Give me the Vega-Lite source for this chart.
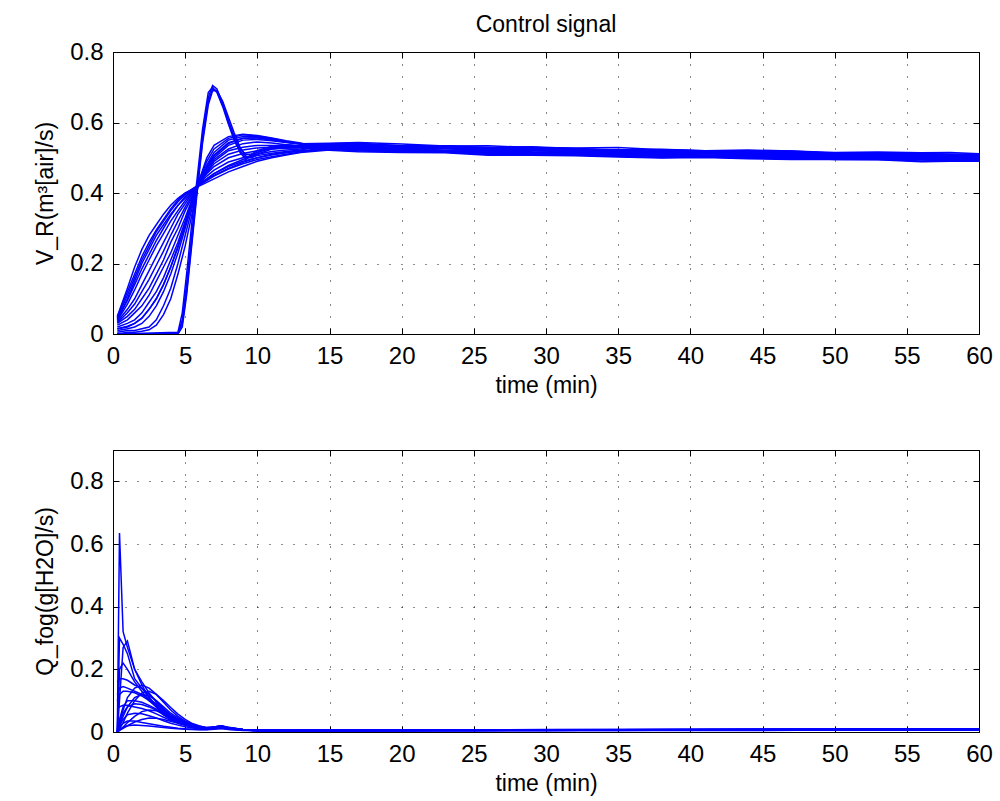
{
"$schema": "https://vega.github.io/schema/vega-lite/v6.json",
"background": "white",
"padding": {"left": 34, "top": 13, "right": 10, "bottom": 5},
"config": {
  "font": "Liberation Sans",
  "view": {"stroke": "black", "strokeWidth": 1},
  "axis": {"domainColor": "black", "tickColor": "black", "labelColor": "black", "titleColor": "black", "labelFontSize": 24, "titleFontSize": 23, "titleFontWeight": "normal", "gridColor": "black", "gridDash": [1, 11], "gridWidth": 1, "gridOpacity": 0.9, "tickSize": -6, "labelPadding": 16, "labelFlush": false, "labelOverlap": false, "labelFont": "Liberation Sans", "titleFont": "Liberation Sans"},
  "title": {"font": "Liberation Sans", "fontSize": 23, "fontWeight": "normal", "color": "black"}
},
"datasets": {
"top": [
{"r":"R1","t":0.3,"v":0.05},{"r":"R1","t":1,"v":0.13},{"r":"R1","t":1.5,"v":0.19},{"r":"R1","t":2,"v":0.24},{"r":"R1","t":2.5,"v":0.28},{"r":"R1","t":3,"v":0.31},{"r":"R1","t":3.5,"v":0.34},{"r":"R1","t":4,"v":0.365},{"r":"R1","t":4.5,"v":0.385},{"r":"R1","t":5,"v":0.40},{"r":"R1","t":5.5,"v":0.41},{"r":"R1","t":6,"v":0.42},{"r":"R1","t":6.5,"v":0.43},{"r":"R1","t":7,"v":0.44},{"r":"R1","t":8,"v":0.46},{"r":"R1","t":9,"v":0.475},{"r":"R1","t":10,"v":0.49},{"r":"R1","t":11,"v":0.5},{"r":"R1","t":12,"v":0.508},{"r":"R1","t":13,"v":0.515},
{"r":"R1","t":15,"v":0.522},{"r":"R1","t":17,"v":0.523},{"r":"R1","t":20,"v":0.516},{"r":"R1","t":23,"v":0.516},{"r":"R1","t":26,"v":0.511},{"r":"R1","t":29,"v":0.513},{"r":"R1","t":32,"v":0.508},{"r":"R1","t":35,"v":0.504},{"r":"R1","t":38,"v":0.506},{"r":"R1","t":41,"v":0.502},{"r":"R1","t":44,"v":0.499},{"r":"R1","t":47,"v":0.501},{"r":"R1","t":50,"v":0.495},{"r":"R1","t":53,"v":0.495},{"r":"R1","t":56,"v":0.495},{"r":"R1","t":58,"v":0.492},{"r":"R1","t":60,"v":0.492},
{"r":"R2","t":0.3,"v":0.04},{"r":"R2","t":1,"v":0.1},{"r":"R2","t":1.5,"v":0.15},{"r":"R2","t":2,"v":0.2},{"r":"R2","t":2.5,"v":0.24},{"r":"R2","t":3,"v":0.28},{"r":"R2","t":3.5,"v":0.31},{"r":"R2","t":4,"v":0.34},{"r":"R2","t":4.5,"v":0.365},{"r":"R2","t":5,"v":0.385},{"r":"R2","t":5.5,"v":0.405},{"r":"R2","t":6,"v":0.425},{"r":"R2","t":6.5,"v":0.44},{"r":"R2","t":7,"v":0.455},{"r":"R2","t":8,"v":0.475},{"r":"R2","t":9,"v":0.49},{"r":"R2","t":10,"v":0.5},{"r":"R2","t":11,"v":0.51},{"r":"R2","t":12,"v":0.515},{"r":"R2","t":13,"v":0.52},
{"r":"R2","t":15,"v":0.528},{"r":"R2","t":17,"v":0.524},{"r":"R2","t":20,"v":0.522},{"r":"R2","t":23,"v":0.521},{"r":"R2","t":26,"v":0.514},{"r":"R2","t":29,"v":0.514},{"r":"R2","t":32,"v":0.513},{"r":"R2","t":35,"v":0.509},{"r":"R2","t":38,"v":0.506},{"r":"R2","t":41,"v":0.508},{"r":"R2","t":44,"v":0.504},{"r":"R2","t":47,"v":0.502},{"r":"R2","t":50,"v":0.502},{"r":"R2","t":53,"v":0.501},{"r":"R2","t":56,"v":0.496},{"r":"R2","t":58,"v":0.497},{"r":"R2","t":60,"v":0.497},
{"r":"R3","t":0.3,"v":0.035},{"r":"R3","t":1,"v":0.07},{"r":"R3","t":1.5,"v":0.1},{"r":"R3","t":2,"v":0.14},{"r":"R3","t":2.5,"v":0.18},{"r":"R3","t":3,"v":0.22},{"r":"R3","t":3.5,"v":0.26},{"r":"R3","t":4,"v":0.3},{"r":"R3","t":4.5,"v":0.34},{"r":"R3","t":5,"v":0.37},{"r":"R3","t":5.5,"v":0.4},{"r":"R3","t":6,"v":0.43},{"r":"R3","t":6.5,"v":0.455},{"r":"R3","t":7,"v":0.475},{"r":"R3","t":8,"v":0.5},{"r":"R3","t":9,"v":0.512},{"r":"R3","t":10,"v":0.52},{"r":"R3","t":11,"v":0.525},{"r":"R3","t":12,"v":0.527},{"r":"R3","t":13,"v":0.528},
{"r":"R3","t":15,"v":0.529},{"r":"R3","t":17,"v":0.531},{"r":"R3","t":20,"v":0.527},{"r":"R3","t":23,"v":0.521},{"r":"R3","t":26,"v":0.522},{"r":"R3","t":29,"v":0.517},{"r":"R3","t":32,"v":0.516},{"r":"R3","t":35,"v":0.517},{"r":"R3","t":38,"v":0.511},{"r":"R3","t":41,"v":0.508},{"r":"R3","t":44,"v":0.510},{"r":"R3","t":47,"v":0.507},{"r":"R3","t":50,"v":0.503},{"r":"R3","t":53,"v":0.504},{"r":"R3","t":56,"v":0.502},{"r":"R3","t":58,"v":0.503},{"r":"R3","t":60,"v":0.499},
{"r":"R4","t":0.3,"v":0.03},{"r":"R4","t":1,"v":0.05},{"r":"R4","t":1.5,"v":0.07},{"r":"R4","t":2,"v":0.1},{"r":"R4","t":2.5,"v":0.13},{"r":"R4","t":3,"v":0.17},{"r":"R4","t":3.5,"v":0.21},{"r":"R4","t":4,"v":0.26},{"r":"R4","t":4.5,"v":0.3},{"r":"R4","t":5,"v":0.35},{"r":"R4","t":5.5,"v":0.39},{"r":"R4","t":6,"v":0.43},{"r":"R4","t":6.5,"v":0.46},{"r":"R4","t":7,"v":0.49},{"r":"R4","t":8,"v":0.52},{"r":"R4","t":9,"v":0.53},{"r":"R4","t":10,"v":0.535},{"r":"R4","t":11,"v":0.535},{"r":"R4","t":12,"v":0.534},{"r":"R4","t":13,"v":0.533},
{"r":"R4","t":15,"v":0.534},{"r":"R4","t":17,"v":0.535},{"r":"R4","t":20,"v":0.528},{"r":"R4","t":23,"v":0.528},{"r":"R4","t":26,"v":0.523},{"r":"R4","t":29,"v":0.525},{"r":"R4","t":32,"v":0.520},{"r":"R4","t":35,"v":0.516},{"r":"R4","t":38,"v":0.518},{"r":"R4","t":41,"v":0.514},{"r":"R4","t":44,"v":0.511},{"r":"R4","t":47,"v":0.513},{"r":"R4","t":50,"v":0.507},{"r":"R4","t":53,"v":0.507},{"r":"R4","t":56,"v":0.507},{"r":"R4","t":58,"v":0.504},{"r":"R4","t":60,"v":0.504},
{"r":"R5","t":0.3,"v":0.02},{"r":"R5","t":1,"v":0.03},{"r":"R5","t":1.5,"v":0.04},{"r":"R5","t":2,"v":0.06},{"r":"R5","t":2.5,"v":0.09},{"r":"R5","t":3,"v":0.12},{"r":"R5","t":3.5,"v":0.16},{"r":"R5","t":4,"v":0.21},{"r":"R5","t":4.5,"v":0.26},{"r":"R5","t":5,"v":0.32},{"r":"R5","t":5.5,"v":0.38},{"r":"R5","t":6,"v":0.43},{"r":"R5","t":6.5,"v":0.47},{"r":"R5","t":7,"v":0.5},{"r":"R5","t":8,"v":0.535},{"r":"R5","t":9,"v":0.55},{"r":"R5","t":10,"v":0.552},{"r":"R5","t":11,"v":0.548},{"r":"R5","t":12,"v":0.543},{"r":"R5","t":13,"v":0.54},
{"r":"R5","t":15,"v":0.540},{"r":"R5","t":17,"v":0.536},{"r":"R5","t":20,"v":0.534},{"r":"R5","t":23,"v":0.533},{"r":"R5","t":26,"v":0.526},{"r":"R5","t":29,"v":0.526},{"r":"R5","t":32,"v":0.525},{"r":"R5","t":35,"v":0.521},{"r":"R5","t":38,"v":0.518},{"r":"R5","t":41,"v":0.520},{"r":"R5","t":44,"v":0.516},{"r":"R5","t":47,"v":0.514},{"r":"R5","t":50,"v":0.514},{"r":"R5","t":53,"v":0.513},{"r":"R5","t":56,"v":0.508},{"r":"R5","t":58,"v":0.509},{"r":"R5","t":60,"v":0.509},
{"r":"R6","t":0.3,"v":0.01},{"r":"R6","t":1,"v":0.015},{"r":"R6","t":1.5,"v":0.02},{"r":"R6","t":2,"v":0.03},{"r":"R6","t":2.5,"v":0.05},{"r":"R6","t":3,"v":0.08},{"r":"R6","t":3.5,"v":0.12},{"r":"R6","t":4,"v":0.17},{"r":"R6","t":4.5,"v":0.23},{"r":"R6","t":5,"v":0.3},{"r":"R6","t":5.5,"v":0.37},{"r":"R6","t":6,"v":0.435},{"r":"R6","t":6.5,"v":0.48},{"r":"R6","t":7,"v":0.515},{"r":"R6","t":8,"v":0.55},{"r":"R6","t":9,"v":0.56},{"r":"R6","t":10,"v":0.56},{"r":"R6","t":11,"v":0.552},{"r":"R6","t":12,"v":0.545},{"r":"R6","t":13,"v":0.54},
{"r":"R6","t":15,"v":0.535},{"r":"R6","t":17,"v":0.537},{"r":"R6","t":20,"v":0.533},{"r":"R6","t":23,"v":0.527},{"r":"R6","t":26,"v":0.528},{"r":"R6","t":29,"v":0.523},{"r":"R6","t":32,"v":0.522},{"r":"R6","t":35,"v":0.523},{"r":"R6","t":38,"v":0.517},{"r":"R6","t":41,"v":0.514},{"r":"R6","t":44,"v":0.516},{"r":"R6","t":47,"v":0.513},{"r":"R6","t":50,"v":0.509},{"r":"R6","t":53,"v":0.510},{"r":"R6","t":56,"v":0.508},{"r":"R6","t":58,"v":0.509},{"r":"R6","t":60,"v":0.505},
{"r":"R7","t":0.3,"v":0.005},{"r":"R7","t":1,"v":0.01},{"r":"R7","t":1.5,"v":0.01},{"r":"R7","t":2,"v":0.015},{"r":"R7","t":2.5,"v":0.02},{"r":"R7","t":3,"v":0.04},{"r":"R7","t":3.5,"v":0.08},{"r":"R7","t":4,"v":0.13},{"r":"R7","t":4.5,"v":0.2},{"r":"R7","t":5,"v":0.28},{"r":"R7","t":5.5,"v":0.36},{"r":"R7","t":6,"v":0.44},{"r":"R7","t":6.5,"v":0.49},{"r":"R7","t":7,"v":0.525},{"r":"R7","t":8,"v":0.555},{"r":"R7","t":9,"v":0.565},{"r":"R7","t":10,"v":0.562},{"r":"R7","t":11,"v":0.555},{"r":"R7","t":12,"v":0.547},{"r":"R7","t":13,"v":0.54},
{"r":"R7","t":15,"v":0.532},{"r":"R7","t":17,"v":0.533},{"r":"R7","t":20,"v":0.526},{"r":"R7","t":23,"v":0.526},{"r":"R7","t":26,"v":0.521},{"r":"R7","t":29,"v":0.523},{"r":"R7","t":32,"v":0.518},{"r":"R7","t":35,"v":0.514},{"r":"R7","t":38,"v":0.516},{"r":"R7","t":41,"v":0.512},{"r":"R7","t":44,"v":0.509},{"r":"R7","t":47,"v":0.511},{"r":"R7","t":50,"v":0.505},{"r":"R7","t":53,"v":0.505},{"r":"R7","t":56,"v":0.505},{"r":"R7","t":58,"v":0.502},{"r":"R7","t":60,"v":0.502},
{"r":"R8","t":0.3,"v":0.045},{"r":"R8","t":1,"v":0.11},{"r":"R8","t":1.5,"v":0.16},{"r":"R8","t":2,"v":0.21},{"r":"R8","t":2.5,"v":0.25},{"r":"R8","t":3,"v":0.29},{"r":"R8","t":3.5,"v":0.32},{"r":"R8","t":4,"v":0.35},{"r":"R8","t":4.5,"v":0.375},{"r":"R8","t":5,"v":0.395},{"r":"R8","t":5.5,"v":0.41},{"r":"R8","t":6,"v":0.423},{"r":"R8","t":6.5,"v":0.435},{"r":"R8","t":7,"v":0.448},{"r":"R8","t":8,"v":0.468},{"r":"R8","t":9,"v":0.483},{"r":"R8","t":10,"v":0.495},{"r":"R8","t":11,"v":0.503},{"r":"R8","t":12,"v":0.51},{"r":"R8","t":13,"v":0.516},
{"r":"R8","t":15,"v":0.526},{"r":"R8","t":17,"v":0.522},{"r":"R8","t":20,"v":0.520},{"r":"R8","t":23,"v":0.519},{"r":"R8","t":26,"v":0.512},{"r":"R8","t":29,"v":0.512},{"r":"R8","t":32,"v":0.511},{"r":"R8","t":35,"v":0.507},{"r":"R8","t":38,"v":0.504},{"r":"R8","t":41,"v":0.506},{"r":"R8","t":44,"v":0.502},{"r":"R8","t":47,"v":0.500},{"r":"R8","t":50,"v":0.500},{"r":"R8","t":53,"v":0.499},{"r":"R8","t":56,"v":0.494},{"r":"R8","t":58,"v":0.495},{"r":"R8","t":60,"v":0.495},
{"r":"R9","t":0.3,"v":0.025},{"r":"R9","t":1,"v":0.04},{"r":"R9","t":1.5,"v":0.06},{"r":"R9","t":2,"v":0.08},{"r":"R9","t":2.5,"v":0.11},{"r":"R9","t":3,"v":0.15},{"r":"R9","t":3.5,"v":0.19},{"r":"R9","t":4,"v":0.23},{"r":"R9","t":4.5,"v":0.28},{"r":"R9","t":5,"v":0.33},{"r":"R9","t":5.5,"v":0.385},{"r":"R9","t":6,"v":0.43},{"r":"R9","t":6.5,"v":0.465},{"r":"R9","t":7,"v":0.495},{"r":"R9","t":8,"v":0.525},{"r":"R9","t":9,"v":0.54},{"r":"R9","t":10,"v":0.545},{"r":"R9","t":11,"v":0.542},{"r":"R9","t":12,"v":0.537},{"r":"R9","t":13,"v":0.533},
{"r":"R9","t":15,"v":0.527},{"r":"R9","t":17,"v":0.529},{"r":"R9","t":20,"v":0.525},{"r":"R9","t":23,"v":0.519},{"r":"R9","t":26,"v":0.520},{"r":"R9","t":29,"v":0.515},{"r":"R9","t":32,"v":0.514},{"r":"R9","t":35,"v":0.515},{"r":"R9","t":38,"v":0.509},{"r":"R9","t":41,"v":0.506},{"r":"R9","t":44,"v":0.508},{"r":"R9","t":47,"v":0.505},{"r":"R9","t":50,"v":0.501},{"r":"R9","t":53,"v":0.502},{"r":"R9","t":56,"v":0.500},{"r":"R9","t":58,"v":0.501},{"r":"R9","t":60,"v":0.497},
{"r":"R10","t":0.3,"v":0.015},{"r":"R10","t":1,"v":0.02},{"r":"R10","t":1.5,"v":0.03},{"r":"R10","t":2,"v":0.045},{"r":"R10","t":2.5,"v":0.07},{"r":"R10","t":3,"v":0.1},{"r":"R10","t":3.5,"v":0.14},{"r":"R10","t":4,"v":0.19},{"r":"R10","t":4.5,"v":0.25},{"r":"R10","t":5,"v":0.31},{"r":"R10","t":5.5,"v":0.375},{"r":"R10","t":6,"v":0.435},{"r":"R10","t":6.5,"v":0.475},{"r":"R10","t":7,"v":0.505},{"r":"R10","t":8,"v":0.54},{"r":"R10","t":9,"v":0.555},{"r":"R10","t":10,"v":0.557},{"r":"R10","t":11,"v":0.552},{"r":"R10","t":12,"v":0.545},{"r":"R10","t":13,"v":0.538},
{"r":"R10","t":15,"v":0.540},{"r":"R10","t":17,"v":0.541},{"r":"R10","t":20,"v":0.534},{"r":"R10","t":23,"v":0.534},{"r":"R10","t":26,"v":0.529},{"r":"R10","t":29,"v":0.531},{"r":"R10","t":32,"v":0.526},{"r":"R10","t":35,"v":0.522},{"r":"R10","t":38,"v":0.524},{"r":"R10","t":41,"v":0.520},{"r":"R10","t":44,"v":0.517},{"r":"R10","t":47,"v":0.519},{"r":"R10","t":50,"v":0.513},{"r":"R10","t":53,"v":0.513},{"r":"R10","t":56,"v":0.513},{"r":"R10","t":58,"v":0.510},{"r":"R10","t":60,"v":0.510},
{"r":"R11","t":0.3,"v":0.048},{"r":"R11","t":1,"v":0.12},{"r":"R11","t":1.5,"v":0.17},{"r":"R11","t":2,"v":0.22},{"r":"R11","t":2.5,"v":0.26},{"r":"R11","t":3,"v":0.295},{"r":"R11","t":3.5,"v":0.325},{"r":"R11","t":4,"v":0.355},{"r":"R11","t":4.5,"v":0.38},{"r":"R11","t":5,"v":0.398},{"r":"R11","t":5.5,"v":0.412},{"r":"R11","t":6,"v":0.425},{"r":"R11","t":6.5,"v":0.437},{"r":"R11","t":7,"v":0.45},{"r":"R11","t":8,"v":0.47},{"r":"R11","t":9,"v":0.487},{"r":"R11","t":10,"v":0.5},{"r":"R11","t":11,"v":0.508},{"r":"R11","t":12,"v":0.514},{"r":"R11","t":13,"v":0.519},
{"r":"R11","t":15,"v":0.524},{"r":"R11","t":17,"v":0.526},{"r":"R11","t":20,"v":0.522},{"r":"R11","t":23,"v":0.516},{"r":"R11","t":26,"v":0.517},{"r":"R11","t":29,"v":0.512},{"r":"R11","t":32,"v":0.511},{"r":"R11","t":35,"v":0.512},{"r":"R11","t":38,"v":0.506},{"r":"R11","t":41,"v":0.503},{"r":"R11","t":44,"v":0.505},{"r":"R11","t":47,"v":0.502},{"r":"R11","t":50,"v":0.498},{"r":"R11","t":53,"v":0.499},{"r":"R11","t":56,"v":0.497},{"r":"R11","t":58,"v":0.498},{"r":"R11","t":60,"v":0.494},
{"r":"R12","t":0.3,"v":0.038},{"r":"R12","t":1,"v":0.085},{"r":"R12","t":1.5,"v":0.125},{"r":"R12","t":2,"v":0.17},{"r":"R12","t":2.5,"v":0.21},{"r":"R12","t":3,"v":0.25},{"r":"R12","t":3.5,"v":0.285},{"r":"R12","t":4,"v":0.32},{"r":"R12","t":4.5,"v":0.35},{"r":"R12","t":5,"v":0.378},{"r":"R12","t":5.5,"v":0.403},{"r":"R12","t":6,"v":0.428},{"r":"R12","t":6.5,"v":0.448},{"r":"R12","t":7,"v":0.465},{"r":"R12","t":8,"v":0.488},{"r":"R12","t":9,"v":0.5},{"r":"R12","t":10,"v":0.51},{"r":"R12","t":11,"v":0.518},{"r":"R12","t":12,"v":0.522},{"r":"R12","t":13,"v":0.525},
{"r":"R12","t":15,"v":0.533},{"r":"R12","t":17,"v":0.529},{"r":"R12","t":20,"v":0.527},{"r":"R12","t":23,"v":0.526},{"r":"R12","t":26,"v":0.519},{"r":"R12","t":29,"v":0.519},{"r":"R12","t":32,"v":0.518},{"r":"R12","t":35,"v":0.514},{"r":"R12","t":38,"v":0.511},{"r":"R12","t":41,"v":0.513},{"r":"R12","t":44,"v":0.509},{"r":"R12","t":47,"v":0.507},{"r":"R12","t":50,"v":0.507},{"r":"R12","t":53,"v":0.506},{"r":"R12","t":56,"v":0.501},{"r":"R12","t":58,"v":0.502},{"r":"R12","t":60,"v":0.502},
{"r":"R13","t":0.3,"v":0.032},{"r":"R13","t":1,"v":0.06},{"r":"R13","t":1.5,"v":0.085},{"r":"R13","t":2,"v":0.12},{"r":"R13","t":2.5,"v":0.155},{"r":"R13","t":3,"v":0.195},{"r":"R13","t":3.5,"v":0.235},{"r":"R13","t":4,"v":0.28},{"r":"R13","t":4.5,"v":0.32},{"r":"R13","t":5,"v":0.36},{"r":"R13","t":5.5,"v":0.395},{"r":"R13","t":6,"v":0.43},{"r":"R13","t":6.5,"v":0.458},{"r":"R13","t":7,"v":0.483},{"r":"R13","t":8,"v":0.51},{"r":"R13","t":9,"v":0.522},{"r":"R13","t":10,"v":0.528},{"r":"R13","t":11,"v":0.53},{"r":"R13","t":12,"v":0.53},{"r":"R13","t":13,"v":0.53},
{"r":"R13","t":15,"v":0.523},{"r":"R13","t":17,"v":0.524},{"r":"R13","t":20,"v":0.517},{"r":"R13","t":23,"v":0.517},{"r":"R13","t":26,"v":0.512},{"r":"R13","t":29,"v":0.514},{"r":"R13","t":32,"v":0.509},{"r":"R13","t":35,"v":0.505},{"r":"R13","t":38,"v":0.507},{"r":"R13","t":41,"v":0.503},{"r":"R13","t":44,"v":0.500},{"r":"R13","t":47,"v":0.502},{"r":"R13","t":50,"v":0.496},{"r":"R13","t":53,"v":0.496},{"r":"R13","t":56,"v":0.496},{"r":"R13","t":58,"v":0.493},{"r":"R13","t":60,"v":0.493},
{"r":"R14","t":0.3,"v":0.015},{"r":"R14","t":1,"v":0.022},{"r":"R14","t":1.5,"v":0.03},{"r":"R14","t":2,"v":0.045},{"r":"R14","t":2.5,"v":0.07},{"r":"R14","t":3,"v":0.1},{"r":"R14","t":3.5,"v":0.14},{"r":"R14","t":4,"v":0.19},{"r":"R14","t":4.5,"v":0.245},{"r":"R14","t":5,"v":0.31},{"r":"R14","t":5.5,"v":0.375},{"r":"R14","t":6,"v":0.432},{"r":"R14","t":6.5,"v":0.475},{"r":"R14","t":7,"v":0.508},{"r":"R14","t":8,"v":0.543},{"r":"R14","t":9,"v":0.555},{"r":"R14","t":10,"v":0.556},{"r":"R14","t":11,"v":0.55},{"r":"R14","t":12,"v":0.544},{"r":"R14","t":13,"v":0.54},
{"r":"R14","t":15,"v":0.541},{"r":"R14","t":17,"v":0.543},{"r":"R14","t":20,"v":0.539},{"r":"R14","t":23,"v":0.533},{"r":"R14","t":26,"v":0.534},{"r":"R14","t":29,"v":0.529},{"r":"R14","t":32,"v":0.528},{"r":"R14","t":35,"v":0.529},{"r":"R14","t":38,"v":0.523},{"r":"R14","t":41,"v":0.520},{"r":"R14","t":44,"v":0.522},{"r":"R14","t":47,"v":0.519},{"r":"R14","t":50,"v":0.515},{"r":"R14","t":53,"v":0.516},{"r":"R14","t":56,"v":0.514},{"r":"R14","t":58,"v":0.515},{"r":"R14","t":60,"v":0.511},
{"r":"R15","t":0.3,"v":0},{"r":"R15","t":1,"v":0.005},{"r":"R15","t":1.5,"v":0.005},{"r":"R15","t":2,"v":0.008},{"r":"R15","t":2.5,"v":0.012},{"r":"R15","t":3,"v":0.025},{"r":"R15","t":3.5,"v":0.055},{"r":"R15","t":4,"v":0.1},{"r":"R15","t":4.5,"v":0.17},{"r":"R15","t":5,"v":0.25},{"r":"R15","t":5.5,"v":0.345},{"r":"R15","t":6,"v":0.44},{"r":"R15","t":6.5,"v":0.5},{"r":"R15","t":7,"v":0.535},{"r":"R15","t":8,"v":0.56},{"r":"R15","t":9,"v":0.567},{"r":"R15","t":10,"v":0.563},{"r":"R15","t":11,"v":0.556},{"r":"R15","t":12,"v":0.548},{"r":"R15","t":13,"v":0.542},
{"r":"R15","t":15,"v":0.521},{"r":"R15","t":17,"v":0.517},{"r":"R15","t":20,"v":0.515},{"r":"R15","t":23,"v":0.514},{"r":"R15","t":26,"v":0.507},{"r":"R15","t":29,"v":0.507},{"r":"R15","t":32,"v":0.506},{"r":"R15","t":35,"v":0.502},{"r":"R15","t":38,"v":0.499},{"r":"R15","t":41,"v":0.501},{"r":"R15","t":44,"v":0.497},{"r":"R15","t":47,"v":0.495},{"r":"R15","t":50,"v":0.495},{"r":"R15","t":53,"v":0.494},{"r":"R15","t":56,"v":0.489},{"r":"R15","t":58,"v":0.490},{"r":"R15","t":60,"v":0.490},
{"r":"R16","t":0.3,"v":0.042},{"r":"R16","t":1,"v":0.095},{"r":"R16","t":1.5,"v":0.14},{"r":"R16","t":2,"v":0.185},{"r":"R16","t":2.5,"v":0.225},{"r":"R16","t":3,"v":0.265},{"r":"R16","t":3.5,"v":0.3},{"r":"R16","t":4,"v":0.335},{"r":"R16","t":4.5,"v":0.365},{"r":"R16","t":5,"v":0.39},{"r":"R16","t":5.5,"v":0.408},{"r":"R16","t":6,"v":0.425},{"r":"R16","t":6.5,"v":0.44},{"r":"R16","t":7,"v":0.455},{"r":"R16","t":8,"v":0.478},{"r":"R16","t":9,"v":0.495},{"r":"R16","t":10,"v":0.506},{"r":"R16","t":11,"v":0.513},{"r":"R16","t":12,"v":0.518},{"r":"R16","t":13,"v":0.522},
{"r":"R16","t":15,"v":0.539},{"r":"R16","t":17,"v":0.540},{"r":"R16","t":20,"v":0.533},{"r":"R16","t":23,"v":0.533},{"r":"R16","t":26,"v":0.528},{"r":"R16","t":29,"v":0.530},{"r":"R16","t":32,"v":0.525},{"r":"R16","t":35,"v":0.521},{"r":"R16","t":38,"v":0.523},{"r":"R16","t":41,"v":0.519},{"r":"R16","t":44,"v":0.516},{"r":"R16","t":47,"v":0.518},{"r":"R16","t":50,"v":0.512},{"r":"R16","t":53,"v":0.512},{"r":"R16","t":56,"v":0.512},{"r":"R16","t":58,"v":0.509},{"r":"R16","t":60,"v":0.509},
{"r":"S1","t":0.3,"v":0},{"r":"S1","t":4.5,"v":0},{"r":"S1","t":4.8,"v":0.04},{"r":"S1","t":5.1,"v":0.14},{"r":"S1","t":5.5,"v":0.3},{"r":"S1","t":5.8,"v":0.41},{"r":"S1","t":6.2,"v":0.56},{"r":"S1","t":6.6,"v":0.67},{"r":"S1","t":6.9,"v":0.705},{"r":"S1","t":7.2,"v":0.695},{"r":"S1","t":7.6,"v":0.655},{"r":"S1","t":8,"v":0.605},{"r":"S1","t":8.4,"v":0.56},{"r":"S1","t":8.8,"v":0.52},{"r":"S1","t":9.2,"v":0.5},{"r":"S1","t":9.6,"v":0.505},{"r":"S1","t":10,"v":0.515},{"r":"S1","t":11,"v":0.53},{"r":"S1","t":12,"v":0.535},{"r":"S1","t":13,"v":0.532},
{"r":"S1","t":15,"v":0.535},{"r":"S1","t":17,"v":0.531},{"r":"S1","t":20,"v":0.529},{"r":"S1","t":23,"v":0.528},{"r":"S1","t":26,"v":0.521},{"r":"S1","t":29,"v":0.521},{"r":"S1","t":32,"v":0.520},{"r":"S1","t":35,"v":0.516},{"r":"S1","t":38,"v":0.513},{"r":"S1","t":41,"v":0.515},{"r":"S1","t":44,"v":0.511},{"r":"S1","t":47,"v":0.509},{"r":"S1","t":50,"v":0.509},{"r":"S1","t":53,"v":0.508},{"r":"S1","t":56,"v":0.503},{"r":"S1","t":58,"v":0.504},{"r":"S1","t":60,"v":0.504},
{"r":"S2","t":0.3,"v":0},{"r":"S2","t":4.5,"v":0},{"r":"S2","t":4.8,"v":0.02},{"r":"S2","t":5.1,"v":0.11},{"r":"S2","t":5.5,"v":0.27},{"r":"S2","t":5.8,"v":0.39},{"r":"S2","t":6.2,"v":0.54},{"r":"S2","t":6.6,"v":0.65},{"r":"S2","t":6.9,"v":0.69},{"r":"S2","t":7.2,"v":0.69},{"r":"S2","t":7.6,"v":0.66},{"r":"S2","t":8,"v":0.615},{"r":"S2","t":8.4,"v":0.57},{"r":"S2","t":8.8,"v":0.53},{"r":"S2","t":9.2,"v":0.505},{"r":"S2","t":9.6,"v":0.5},{"r":"S2","t":10,"v":0.51},{"r":"S2","t":11,"v":0.525},{"r":"S2","t":12,"v":0.53},{"r":"S2","t":13,"v":0.53},
{"r":"S2","t":15,"v":0.526},{"r":"S2","t":17,"v":0.528},{"r":"S2","t":20,"v":0.524},{"r":"S2","t":23,"v":0.518},{"r":"S2","t":26,"v":0.519},{"r":"S2","t":29,"v":0.514},{"r":"S2","t":32,"v":0.513},{"r":"S2","t":35,"v":0.514},{"r":"S2","t":38,"v":0.508},{"r":"S2","t":41,"v":0.505},{"r":"S2","t":44,"v":0.507},{"r":"S2","t":47,"v":0.504},{"r":"S2","t":50,"v":0.500},{"r":"S2","t":53,"v":0.501},{"r":"S2","t":56,"v":0.499},{"r":"S2","t":58,"v":0.500},{"r":"S2","t":60,"v":0.496},
{"r":"S3","t":0.3,"v":0},{"r":"S3","t":4.5,"v":0.005},{"r":"S3","t":4.8,"v":0.06},{"r":"S3","t":5.1,"v":0.17},{"r":"S3","t":5.5,"v":0.33},{"r":"S3","t":5.8,"v":0.43},{"r":"S3","t":6.2,"v":0.58},{"r":"S3","t":6.6,"v":0.685},{"r":"S3","t":6.9,"v":0.70},{"r":"S3","t":7.2,"v":0.685},{"r":"S3","t":7.6,"v":0.645},{"r":"S3","t":8,"v":0.595},{"r":"S3","t":8.4,"v":0.55},{"r":"S3","t":8.8,"v":0.515},{"r":"S3","t":9.2,"v":0.495},{"r":"S3","t":9.6,"v":0.51},{"r":"S3","t":10,"v":0.52},{"r":"S3","t":11,"v":0.533},{"r":"S3","t":12,"v":0.537},{"r":"S3","t":13,"v":0.534},
{"r":"S3","t":15,"v":0.537},{"r":"S3","t":17,"v":0.538},{"r":"S3","t":20,"v":0.531},{"r":"S3","t":23,"v":0.531},{"r":"S3","t":26,"v":0.526},{"r":"S3","t":29,"v":0.528},{"r":"S3","t":32,"v":0.523},{"r":"S3","t":35,"v":0.519},{"r":"S3","t":38,"v":0.521},{"r":"S3","t":41,"v":0.517},{"r":"S3","t":44,"v":0.514},{"r":"S3","t":47,"v":0.516},{"r":"S3","t":50,"v":0.510},{"r":"S3","t":53,"v":0.510},{"r":"S3","t":56,"v":0.510},{"r":"S3","t":58,"v":0.507},{"r":"S3","t":60,"v":0.507},
{"r":"S4","t":0.3,"v":0},{"r":"S4","t":4.5,"v":0},{"r":"S4","t":4.8,"v":0.03},{"r":"S4","t":5.1,"v":0.12},{"r":"S4","t":5.5,"v":0.28},{"r":"S4","t":5.8,"v":0.4},{"r":"S4","t":6.2,"v":0.55},{"r":"S4","t":6.6,"v":0.66},{"r":"S4","t":6.9,"v":0.695},{"r":"S4","t":7.2,"v":0.69},{"r":"S4","t":7.6,"v":0.65},{"r":"S4","t":8,"v":0.6},{"r":"S4","t":8.4,"v":0.555},{"r":"S4","t":8.8,"v":0.525},{"r":"S4","t":9.2,"v":0.51},{"r":"S4","t":9.6,"v":0.51},{"r":"S4","t":10,"v":0.515},{"r":"S4","t":11,"v":0.528},{"r":"S4","t":12,"v":0.532},{"r":"S4","t":13,"v":0.531},
{"r":"S4","t":15,"v":0.523},{"r":"S4","t":17,"v":0.519},{"r":"S4","t":20,"v":0.517},{"r":"S4","t":23,"v":0.516},{"r":"S4","t":26,"v":0.509},{"r":"S4","t":29,"v":0.509},{"r":"S4","t":32,"v":0.508},{"r":"S4","t":35,"v":0.504},{"r":"S4","t":38,"v":0.501},{"r":"S4","t":41,"v":0.503},{"r":"S4","t":44,"v":0.499},{"r":"S4","t":47,"v":0.497},{"r":"S4","t":50,"v":0.497},{"r":"S4","t":53,"v":0.496},{"r":"S4","t":56,"v":0.491},{"r":"S4","t":58,"v":0.492},{"r":"S4","t":60,"v":0.492}
],
"bot": [
{"r":"B1","t":0.3,"v":0},{"r":"B1","t":0.45,"v":0.635},{"r":"B1","t":0.7,"v":0.32},{"r":"B1","t":1,"v":0.27},{"r":"B1","t":1.5,"v":0.2},{"r":"B1","t":2,"v":0.15},{"r":"B1","t":2.5,"v":0.11},{"r":"B1","t":3,"v":0.08},{"r":"B1","t":3.5,"v":0.055},{"r":"B1","t":4,"v":0.04},{"r":"B1","t":4.5,"v":0.03},{"r":"B1","t":5,"v":0.022},{"r":"B1","t":5.5,"v":0.017},{"r":"B1","t":6,"v":0.013},{"r":"B1","t":6.5,"v":0.012},{"r":"B1","t":7,"v":0.014},{"r":"B1","t":7.5,"v":0.016},{"r":"B1","t":8,"v":0.012},{"r":"B1","t":9,"v":0.007},{"r":"B1","t":10,"v":0.006},{"r":"B1","t":12,"v":0.006},{"r":"B1","t":15,"v":0.006},{"r":"B1","t":20,"v":0.007},{"r":"B1","t":25,"v":0.007},{"r":"B1","t":30,"v":0.008},{"r":"B1","t":35,"v":0.008},{"r":"B1","t":40,"v":0.009},{"r":"B1","t":45,"v":0.009},{"r":"B1","t":50,"v":0.009},{"r":"B1","t":55,"v":0.01},{"r":"B1","t":60,"v":0.01},
{"r":"B2","t":0.3,"v":0},{"r":"B2","t":0.45,"v":0.3},{"r":"B2","t":0.7,"v":0.28},{"r":"B2","t":1,"v":0.25},{"r":"B2","t":1.5,"v":0.17},{"r":"B2","t":2,"v":0.14},{"r":"B2","t":2.5,"v":0.11},{"r":"B2","t":3,"v":0.085},{"r":"B2","t":3.5,"v":0.06},{"r":"B2","t":4,"v":0.045},{"r":"B2","t":4.5,"v":0.032},{"r":"B2","t":5,"v":0.024},{"r":"B2","t":5.5,"v":0.018},{"r":"B2","t":6,"v":0.014},{"r":"B2","t":6.5,"v":0.012},{"r":"B2","t":7,"v":0.016},{"r":"B2","t":7.5,"v":0.02},{"r":"B2","t":8,"v":0.014},{"r":"B2","t":9,"v":0.008},{"r":"B2","t":10,"v":0.006},{"r":"B2","t":12,"v":0.005},{"r":"B2","t":15,"v":0.005},{"r":"B2","t":20,"v":0.006},{"r":"B2","t":25,"v":0.006},{"r":"B2","t":30,"v":0.007},{"r":"B2","t":35,"v":0.007},{"r":"B2","t":40,"v":0.007},{"r":"B2","t":45,"v":0.008},{"r":"B2","t":50,"v":0.008},{"r":"B2","t":55,"v":0.008},{"r":"B2","t":60,"v":0.009},
{"r":"B3","t":0.3,"v":0.16},{"r":"B3","t":0.45,"v":0.17},{"r":"B3","t":0.7,"v":0.17},{"r":"B3","t":1,"v":0.165},{"r":"B3","t":1.5,"v":0.15},{"r":"B3","t":2,"v":0.14},{"r":"B3","t":2.5,"v":0.12},{"r":"B3","t":3,"v":0.1},{"r":"B3","t":3.5,"v":0.075},{"r":"B3","t":4,"v":0.055},{"r":"B3","t":4.5,"v":0.04},{"r":"B3","t":5,"v":0.028},{"r":"B3","t":5.5,"v":0.02},{"r":"B3","t":6,"v":0.015},{"r":"B3","t":6.5,"v":0.012},{"r":"B3","t":7,"v":0.015},{"r":"B3","t":7.5,"v":0.018},{"r":"B3","t":8,"v":0.013},{"r":"B3","t":9,"v":0.007},{"r":"B3","t":10,"v":0.005},{"r":"B3","t":12,"v":0.004},{"r":"B3","t":15,"v":0.004},{"r":"B3","t":20,"v":0.005},{"r":"B3","t":25,"v":0.005},{"r":"B3","t":30,"v":0.006},{"r":"B3","t":35,"v":0.006},{"r":"B3","t":40,"v":0.007},{"r":"B3","t":45,"v":0.007},{"r":"B3","t":50,"v":0.007},{"r":"B3","t":55,"v":0.008},{"r":"B3","t":60,"v":0.008},
{"r":"B4","t":0.3,"v":0},{"r":"B4","t":0.45,"v":0.03},{"r":"B4","t":0.7,"v":0.07},{"r":"B4","t":1,"v":0.11},{"r":"B4","t":1.5,"v":0.14},{"r":"B4","t":2,"v":0.15},{"r":"B4","t":2.5,"v":0.14},{"r":"B4","t":3,"v":0.12},{"r":"B4","t":3.5,"v":0.095},{"r":"B4","t":4,"v":0.07},{"r":"B4","t":4.5,"v":0.05},{"r":"B4","t":5,"v":0.035},{"r":"B4","t":5.5,"v":0.025},{"r":"B4","t":6,"v":0.018},{"r":"B4","t":6.5,"v":0.014},{"r":"B4","t":7,"v":0.016},{"r":"B4","t":7.5,"v":0.02},{"r":"B4","t":8,"v":0.015},{"r":"B4","t":9,"v":0.008},{"r":"B4","t":10,"v":0.006},{"r":"B4","t":12,"v":0.005},{"r":"B4","t":15,"v":0.006},{"r":"B4","t":20,"v":0.006},{"r":"B4","t":25,"v":0.007},{"r":"B4","t":30,"v":0.007},{"r":"B4","t":35,"v":0.008},{"r":"B4","t":40,"v":0.008},{"r":"B4","t":45,"v":0.009},{"r":"B4","t":50,"v":0.009},{"r":"B4","t":55,"v":0.009},{"r":"B4","t":60,"v":0.01},
{"r":"B5","t":0.3,"v":0},{"r":"B5","t":0.45,"v":0.02},{"r":"B5","t":0.7,"v":0.05},{"r":"B5","t":1,"v":0.08},{"r":"B5","t":1.5,"v":0.11},{"r":"B5","t":2,"v":0.12},{"r":"B5","t":2.5,"v":0.115},{"r":"B5","t":3,"v":0.1},{"r":"B5","t":3.5,"v":0.08},{"r":"B5","t":4,"v":0.06},{"r":"B5","t":4.5,"v":0.045},{"r":"B5","t":5,"v":0.032},{"r":"B5","t":5.5,"v":0.022},{"r":"B5","t":6,"v":0.016},{"r":"B5","t":6.5,"v":0.012},{"r":"B5","t":7,"v":0.014},{"r":"B5","t":7.5,"v":0.017},{"r":"B5","t":8,"v":0.012},{"r":"B5","t":9,"v":0.007},{"r":"B5","t":10,"v":0.005},{"r":"B5","t":12,"v":0.004},{"r":"B5","t":15,"v":0.005},{"r":"B5","t":20,"v":0.005},{"r":"B5","t":25,"v":0.006},{"r":"B5","t":30,"v":0.006},{"r":"B5","t":35,"v":0.006},{"r":"B5","t":40,"v":0.007},{"r":"B5","t":45,"v":0.007},{"r":"B5","t":50,"v":0.008},{"r":"B5","t":55,"v":0.008},{"r":"B5","t":60,"v":0.008},
{"r":"B6","t":0.3,"v":0},{"r":"B6","t":0.45,"v":0.03},{"r":"B6","t":0.7,"v":0.06},{"r":"B6","t":1,"v":0.08},{"r":"B6","t":1.5,"v":0.09},{"r":"B6","t":2,"v":0.088},{"r":"B6","t":2.5,"v":0.08},{"r":"B6","t":3,"v":0.07},{"r":"B6","t":3.5,"v":0.055},{"r":"B6","t":4,"v":0.042},{"r":"B6","t":4.5,"v":0.032},{"r":"B6","t":5,"v":0.024},{"r":"B6","t":5.5,"v":0.017},{"r":"B6","t":6,"v":0.013},{"r":"B6","t":6.5,"v":0.011},{"r":"B6","t":7,"v":0.013},{"r":"B6","t":7.5,"v":0.015},{"r":"B6","t":8,"v":0.011},{"r":"B6","t":9,"v":0.007},{"r":"B6","t":10,"v":0.005},{"r":"B6","t":12,"v":0.005},{"r":"B6","t":15,"v":0.005},{"r":"B6","t":20,"v":0.006},{"r":"B6","t":25,"v":0.006},{"r":"B6","t":30,"v":0.006},{"r":"B6","t":35,"v":0.007},{"r":"B6","t":40,"v":0.007},{"r":"B6","t":45,"v":0.008},{"r":"B6","t":50,"v":0.008},{"r":"B6","t":55,"v":0.008},{"r":"B6","t":60,"v":0.009},
{"r":"B7","t":0.3,"v":0},{"r":"B7","t":0.45,"v":0.02},{"r":"B7","t":0.7,"v":0.04},{"r":"B7","t":1,"v":0.055},{"r":"B7","t":1.5,"v":0.06},{"r":"B7","t":2,"v":0.058},{"r":"B7","t":2.5,"v":0.052},{"r":"B7","t":3,"v":0.045},{"r":"B7","t":3.5,"v":0.036},{"r":"B7","t":4,"v":0.028},{"r":"B7","t":4.5,"v":0.022},{"r":"B7","t":5,"v":0.017},{"r":"B7","t":5.5,"v":0.013},{"r":"B7","t":6,"v":0.01},{"r":"B7","t":6.5,"v":0.009},{"r":"B7","t":7,"v":0.011},{"r":"B7","t":7.5,"v":0.013},{"r":"B7","t":8,"v":0.01},{"r":"B7","t":9,"v":0.006},{"r":"B7","t":10,"v":0.005},{"r":"B7","t":12,"v":0.004},{"r":"B7","t":15,"v":0.004},{"r":"B7","t":20,"v":0.005},{"r":"B7","t":25,"v":0.005},{"r":"B7","t":30,"v":0.005},{"r":"B7","t":35,"v":0.006},{"r":"B7","t":40,"v":0.006},{"r":"B7","t":45,"v":0.006},{"r":"B7","t":50,"v":0.007},{"r":"B7","t":55,"v":0.007},{"r":"B7","t":60,"v":0.007},
{"r":"B8","t":0.3,"v":0},{"r":"B8","t":0.45,"v":0.015},{"r":"B8","t":0.7,"v":0.028},{"r":"B8","t":1,"v":0.035},{"r":"B8","t":1.5,"v":0.035},{"r":"B8","t":2,"v":0.03},{"r":"B8","t":2.5,"v":0.026},{"r":"B8","t":3,"v":0.022},{"r":"B8","t":3.5,"v":0.018},{"r":"B8","t":4,"v":0.015},{"r":"B8","t":4.5,"v":0.012},{"r":"B8","t":5,"v":0.01},{"r":"B8","t":5.5,"v":0.009},{"r":"B8","t":6,"v":0.008},{"r":"B8","t":6.5,"v":0.008},{"r":"B8","t":7,"v":0.01},{"r":"B8","t":7.5,"v":0.012},{"r":"B8","t":8,"v":0.009},{"r":"B8","t":9,"v":0.006},{"r":"B8","t":10,"v":0.004},{"r":"B8","t":12,"v":0.004},{"r":"B8","t":15,"v":0.004},{"r":"B8","t":20,"v":0.004},{"r":"B8","t":25,"v":0.005},{"r":"B8","t":30,"v":0.005},{"r":"B8","t":35,"v":0.005},{"r":"B8","t":40,"v":0.006},{"r":"B8","t":45,"v":0.006},{"r":"B8","t":50,"v":0.006},{"r":"B8","t":55,"v":0.007},{"r":"B8","t":60,"v":0.007},
{"r":"B9","t":0.3,"v":0.1},{"r":"B9","t":0.45,"v":0.12},{"r":"B9","t":0.7,"v":0.13},{"r":"B9","t":1,"v":0.13},{"r":"B9","t":1.5,"v":0.125},{"r":"B9","t":2,"v":0.115},{"r":"B9","t":2.5,"v":0.1},{"r":"B9","t":3,"v":0.085},{"r":"B9","t":3.5,"v":0.065},{"r":"B9","t":4,"v":0.05},{"r":"B9","t":4.5,"v":0.037},{"r":"B9","t":5,"v":0.027},{"r":"B9","t":5.5,"v":0.019},{"r":"B9","t":6,"v":0.014},{"r":"B9","t":6.5,"v":0.012},{"r":"B9","t":7,"v":0.014},{"r":"B9","t":7.5,"v":0.017},{"r":"B9","t":8,"v":0.012},{"r":"B9","t":9,"v":0.007},{"r":"B9","t":10,"v":0.006},{"r":"B9","t":12,"v":0.005},{"r":"B9","t":15,"v":0.005},{"r":"B9","t":20,"v":0.006},{"r":"B9","t":25,"v":0.006},{"r":"B9","t":30,"v":0.007},{"r":"B9","t":35,"v":0.007},{"r":"B9","t":40,"v":0.008},{"r":"B9","t":45,"v":0.008},{"r":"B9","t":50,"v":0.008},{"r":"B9","t":55,"v":0.009},{"r":"B9","t":60,"v":0.009},
{"r":"B10","t":0.3,"v":0},{"r":"B10","t":0.45,"v":0.005},{"r":"B10","t":0.7,"v":0.015},{"r":"B10","t":1,"v":0.03},{"r":"B10","t":1.5,"v":0.05},{"r":"B10","t":2,"v":0.065},{"r":"B10","t":2.5,"v":0.07},{"r":"B10","t":3,"v":0.068},{"r":"B10","t":3.5,"v":0.06},{"r":"B10","t":4,"v":0.05},{"r":"B10","t":4.5,"v":0.04},{"r":"B10","t":5,"v":0.03},{"r":"B10","t":5.5,"v":0.021},{"r":"B10","t":6,"v":0.015},{"r":"B10","t":6.5,"v":0.012},{"r":"B10","t":7,"v":0.014},{"r":"B10","t":7.5,"v":0.017},{"r":"B10","t":8,"v":0.012},{"r":"B10","t":9,"v":0.007},{"r":"B10","t":10,"v":0.005},{"r":"B10","t":12,"v":0.005},{"r":"B10","t":15,"v":0.005},{"r":"B10","t":20,"v":0.005},{"r":"B10","t":25,"v":0.006},{"r":"B10","t":30,"v":0.006},{"r":"B10","t":35,"v":0.007},{"r":"B10","t":40,"v":0.007},{"r":"B10","t":45,"v":0.007},{"r":"B10","t":50,"v":0.008},{"r":"B10","t":55,"v":0.008},{"r":"B10","t":60,"v":0.008},
{"r":"B11","t":0.3,"v":0},{"r":"B11","t":0.45,"v":0.2},{"r":"B11","t":0.7,"v":0.22},{"r":"B11","t":1,"v":0.2},{"r":"B11","t":1.5,"v":0.16},{"r":"B11","t":2,"v":0.13},{"r":"B11","t":2.5,"v":0.1},{"r":"B11","t":3,"v":0.08},{"r":"B11","t":3.5,"v":0.06},{"r":"B11","t":4,"v":0.045},{"r":"B11","t":4.5,"v":0.034},{"r":"B11","t":5,"v":0.025},{"r":"B11","t":5.5,"v":0.018},{"r":"B11","t":6,"v":0.014},{"r":"B11","t":6.5,"v":0.012},{"r":"B11","t":7,"v":0.015},{"r":"B11","t":7.5,"v":0.019},{"r":"B11","t":8,"v":0.013},{"r":"B11","t":9,"v":0.008},{"r":"B11","t":10,"v":0.006},{"r":"B11","t":12,"v":0.005},{"r":"B11","t":15,"v":0.005},{"r":"B11","t":20,"v":0.006},{"r":"B11","t":25,"v":0.006},{"r":"B11","t":30,"v":0.006},{"r":"B11","t":35,"v":0.007},{"r":"B11","t":40,"v":0.007},{"r":"B11","t":45,"v":0.008},{"r":"B11","t":50,"v":0.008},{"r":"B11","t":55,"v":0.009},{"r":"B11","t":60,"v":0.009},
{"r":"B12","t":0.3,"v":0.12},{"r":"B12","t":0.45,"v":0.14},{"r":"B12","t":0.7,"v":0.145},{"r":"B12","t":1,"v":0.14},{"r":"B12","t":1.5,"v":0.13},{"r":"B12","t":2,"v":0.12},{"r":"B12","t":2.5,"v":0.105},{"r":"B12","t":3,"v":0.09},{"r":"B12","t":3.5,"v":0.07},{"r":"B12","t":4,"v":0.054},{"r":"B12","t":4.5,"v":0.04},{"r":"B12","t":5,"v":0.03},{"r":"B12","t":5.5,"v":0.021},{"r":"B12","t":6,"v":0.015},{"r":"B12","t":6.5,"v":0.012},{"r":"B12","t":7,"v":0.014},{"r":"B12","t":7.5,"v":0.017},{"r":"B12","t":8,"v":0.012},{"r":"B12","t":9,"v":0.007},{"r":"B12","t":10,"v":0.005},{"r":"B12","t":12,"v":0.005},{"r":"B12","t":15,"v":0.005},{"r":"B12","t":20,"v":0.006},{"r":"B12","t":25,"v":0.006},{"r":"B12","t":30,"v":0.006},{"r":"B12","t":35,"v":0.007},{"r":"B12","t":40,"v":0.007},{"r":"B12","t":45,"v":0.007},{"r":"B12","t":50,"v":0.008},{"r":"B12","t":55,"v":0.008},{"r":"B12","t":60,"v":0.009},
{"r":"B13","t":0.3,"v":0},{"r":"B13","t":0.45,"v":0.01},{"r":"B13","t":0.7,"v":0.03},{"r":"B13","t":1,"v":0.06},{"r":"B13","t":1.5,"v":0.1},{"r":"B13","t":2,"v":0.125},{"r":"B13","t":2.5,"v":0.13},{"r":"B13","t":3,"v":0.12},{"r":"B13","t":3.5,"v":0.1},{"r":"B13","t":4,"v":0.078},{"r":"B13","t":4.5,"v":0.057},{"r":"B13","t":5,"v":0.04},{"r":"B13","t":5.5,"v":0.027},{"r":"B13","t":6,"v":0.019},{"r":"B13","t":6.5,"v":0.014},{"r":"B13","t":7,"v":0.016},{"r":"B13","t":7.5,"v":0.019},{"r":"B13","t":8,"v":0.014},{"r":"B13","t":9,"v":0.008},{"r":"B13","t":10,"v":0.006},{"r":"B13","t":12,"v":0.005},{"r":"B13","t":15,"v":0.005},{"r":"B13","t":20,"v":0.006},{"r":"B13","t":25,"v":0.006},{"r":"B13","t":30,"v":0.007},{"r":"B13","t":35,"v":0.007},{"r":"B13","t":40,"v":0.007},{"r":"B13","t":45,"v":0.008},{"r":"B13","t":50,"v":0.008},{"r":"B13","t":55,"v":0.009},{"r":"B13","t":60,"v":0.009},
{"r":"B14","t":0.3,"v":0},{"r":"B14","t":0.45,"v":0.04},{"r":"B14","t":0.7,"v":0.08},{"r":"B14","t":1,"v":0.1},{"r":"B14","t":1.5,"v":0.1},{"r":"B14","t":2,"v":0.095},{"r":"B14","t":2.5,"v":0.085},{"r":"B14","t":3,"v":0.073},{"r":"B14","t":3.5,"v":0.058},{"r":"B14","t":4,"v":0.045},{"r":"B14","t":4.5,"v":0.034},{"r":"B14","t":5,"v":0.025},{"r":"B14","t":5.5,"v":0.018},{"r":"B14","t":6,"v":0.013},{"r":"B14","t":6.5,"v":0.011},{"r":"B14","t":7,"v":0.013},{"r":"B14","t":7.5,"v":0.016},{"r":"B14","t":8,"v":0.011},{"r":"B14","t":9,"v":0.007},{"r":"B14","t":10,"v":0.005},{"r":"B14","t":12,"v":0.005},{"r":"B14","t":15,"v":0.005},{"r":"B14","t":20,"v":0.005},{"r":"B14","t":25,"v":0.006},{"r":"B14","t":30,"v":0.006},{"r":"B14","t":35,"v":0.006},{"r":"B14","t":40,"v":0.007},{"r":"B14","t":45,"v":0.007},{"r":"B14","t":50,"v":0.007},{"r":"B14","t":55,"v":0.008},{"r":"B14","t":60,"v":0.008},
{"r":"B15","t":0.3,"v":0},{"r":"B15","t":0.45,"v":0.005},{"r":"B15","t":0.7,"v":0.012},{"r":"B15","t":1,"v":0.02},{"r":"B15","t":1.5,"v":0.032},{"r":"B15","t":2,"v":0.04},{"r":"B15","t":2.5,"v":0.045},{"r":"B15","t":3,"v":0.044},{"r":"B15","t":3.5,"v":0.04},{"r":"B15","t":4,"v":0.034},{"r":"B15","t":4.5,"v":0.028},{"r":"B15","t":5,"v":0.022},{"r":"B15","t":5.5,"v":0.016},{"r":"B15","t":6,"v":0.012},{"r":"B15","t":6.5,"v":0.01},{"r":"B15","t":7,"v":0.012},{"r":"B15","t":7.5,"v":0.014},{"r":"B15","t":8,"v":0.01},{"r":"B15","t":9,"v":0.006},{"r":"B15","t":10,"v":0.005},{"r":"B15","t":12,"v":0.004},{"r":"B15","t":15,"v":0.004},{"r":"B15","t":20,"v":0.005},{"r":"B15","t":25,"v":0.005},{"r":"B15","t":30,"v":0.005},{"r":"B15","t":35,"v":0.006},{"r":"B15","t":40,"v":0.006},{"r":"B15","t":45,"v":0.006},{"r":"B15","t":50,"v":0.007},{"r":"B15","t":55,"v":0.007},{"r":"B15","t":60,"v":0.007},
{"r":"B16","t":0.3,"v":0},{"r":"B16","t":0.45,"v":0.1},{"r":"B16","t":0.7,"v":0.27},{"r":"B16","t":1,"v":0.29},{"r":"B16","t":1.5,"v":0.2},{"r":"B16","t":2,"v":0.16},{"r":"B16","t":2.5,"v":0.125},{"r":"B16","t":3,"v":0.095},{"r":"B16","t":3.5,"v":0.07},{"r":"B16","t":4,"v":0.052},{"r":"B16","t":4.5,"v":0.038},{"r":"B16","t":5,"v":0.028},{"r":"B16","t":5.5,"v":0.02},{"r":"B16","t":6,"v":0.015},{"r":"B16","t":6.5,"v":0.012},{"r":"B16","t":7,"v":0.015},{"r":"B16","t":7.5,"v":0.018},{"r":"B16","t":8,"v":0.013},{"r":"B16","t":9,"v":0.008},{"r":"B16","t":10,"v":0.006},{"r":"B16","t":12,"v":0.005},{"r":"B16","t":15,"v":0.005},{"r":"B16","t":20,"v":0.006},{"r":"B16","t":25,"v":0.006},{"r":"B16","t":30,"v":0.007},{"r":"B16","t":35,"v":0.007},{"r":"B16","t":40,"v":0.008},{"r":"B16","t":45,"v":0.008},{"r":"B16","t":50,"v":0.008},{"r":"B16","t":55,"v":0.009},{"r":"B16","t":60,"v":0.009},
{"r":"B17","t":0.3,"v":0.075},{"r":"B17","t":0.45,"v":0.08},{"r":"B17","t":0.7,"v":0.085},{"r":"B17","t":1,"v":0.085},{"r":"B17","t":1.5,"v":0.08},{"r":"B17","t":2,"v":0.075},{"r":"B17","t":2.5,"v":0.068},{"r":"B17","t":3,"v":0.058},{"r":"B17","t":3.5,"v":0.047},{"r":"B17","t":4,"v":0.037},{"r":"B17","t":4.5,"v":0.029},{"r":"B17","t":5,"v":0.022},{"r":"B17","t":5.5,"v":0.016},{"r":"B17","t":6,"v":0.012},{"r":"B17","t":6.5,"v":0.01},{"r":"B17","t":7,"v":0.012},{"r":"B17","t":7.5,"v":0.014},{"r":"B17","t":8,"v":0.01},{"r":"B17","t":9,"v":0.006},{"r":"B17","t":10,"v":0.005},{"r":"B17","t":12,"v":0.004},{"r":"B17","t":15,"v":0.005},{"r":"B17","t":20,"v":0.005},{"r":"B17","t":25,"v":0.005},{"r":"B17","t":30,"v":0.006},{"r":"B17","t":35,"v":0.006},{"r":"B17","t":40,"v":0.006},{"r":"B17","t":45,"v":0.007},{"r":"B17","t":50,"v":0.007},{"r":"B17","t":55,"v":0.007},{"r":"B17","t":60,"v":0.008},
{"r":"B18","t":0.3,"v":0},{"r":"B18","t":0.45,"v":0.008},{"r":"B18","t":0.7,"v":0.015},{"r":"B18","t":1,"v":0.02},{"r":"B18","t":1.5,"v":0.022},{"r":"B18","t":2,"v":0.021},{"r":"B18","t":2.5,"v":0.019},{"r":"B18","t":3,"v":0.017},{"r":"B18","t":3.5,"v":0.014},{"r":"B18","t":4,"v":0.012},{"r":"B18","t":4.5,"v":0.01},{"r":"B18","t":5,"v":0.009},{"r":"B18","t":5.5,"v":0.008},{"r":"B18","t":6,"v":0.007},{"r":"B18","t":6.5,"v":0.007},{"r":"B18","t":7,"v":0.009},{"r":"B18","t":7.5,"v":0.011},{"r":"B18","t":8,"v":0.008},{"r":"B18","t":9,"v":0.005},{"r":"B18","t":10,"v":0.004},{"r":"B18","t":12,"v":0.003},{"r":"B18","t":15,"v":0.004},{"r":"B18","t":20,"v":0.004},{"r":"B18","t":25,"v":0.004},{"r":"B18","t":30,"v":0.005},{"r":"B18","t":35,"v":0.005},{"r":"B18","t":40,"v":0.005},{"r":"B18","t":45,"v":0.005},{"r":"B18","t":50,"v":0.006},{"r":"B18","t":55,"v":0.006},{"r":"B18","t":60,"v":0.006}
]
},
"spacing": 51,
"vconcat": [
{
  "title": {"text": "Control signal", "anchor": "middle", "frame": "group", "offset": 3},
  "width": 866, "height": 282,
  "layer": [
    {"data": {"name": "top"},
     "mark": {"type": "line", "color": "#0000ff", "strokeWidth": 1.5, "clip": true},
     "encoding": {
       "x": {"field": "t", "type": "quantitative", "scale": {"domain": [0, 60], "nice": false, "zero": false},
             "axis": {"title": "time (min)", "values": [0,5,10,15,20,25,30,35,40,45,50,55,60], "titlePadding": 6}},
       "y": {"field": "v", "type": "quantitative", "scale": {"domain": [0, 0.8], "nice": false, "zero": false},
             "axis": {"title": "V_R(m³[air]/s)", "values": [0,0.2,0.4,0.6,0.8], "labelExpr": "datum.value == 0 ? '0' : format(datum.value, '.1f')", "titlePadding": 12}},
       "detail": {"field": "r", "type": "nominal"}
     }},
    {"data": {"values": [{"t": 0, "v": 0}]},
     "mark": {"type": "point", "opacity": 0},
     "encoding": {
       "x": {"field": "t", "type": "quantitative", "scale": {"domain": [0, 60], "nice": false, "zero": false}, "axis": {"orient": "top", "labels": false, "title": null, "grid": false, "domain": false, "values": [0,5,10,15,20,25,30,35,40,45,50,55,60]}},
       "y": {"field": "v", "type": "quantitative", "scale": {"domain": [0, 0.8], "nice": false, "zero": false}, "axis": {"orient": "right", "labels": false, "title": null, "grid": false, "domain": false, "values": [0,0.2,0.4,0.6,0.8]}}
     }}
  ],
  "resolve": {"axis": {"x": "independent", "y": "independent"}}
},
{
  "width": 866, "height": 282,
  "layer": [
    {"data": {"name": "bot"},
     "mark": {"type": "line", "color": "#0000ff", "strokeWidth": 1.5, "clip": true},
     "encoding": {
       "x": {"field": "t", "type": "quantitative", "scale": {"domain": [0, 60], "nice": false, "zero": false},
             "axis": {"title": "time (min)", "values": [0,5,10,15,20,25,30,35,40,45,50,55,60], "titlePadding": 6}},
       "y": {"field": "v", "type": "quantitative", "scale": {"domain": [0, 0.9], "nice": false, "zero": false},
             "axis": {"title": "Q_fog(g[H2O]/s)", "values": [0,0.2,0.4,0.6,0.8], "labelExpr": "datum.value == 0 ? '0' : format(datum.value, '.1f')", "titlePadding": 12}},
       "detail": {"field": "r", "type": "nominal"}
     }},
    {"data": {"values": [{"t": 0, "v": 0}]},
     "mark": {"type": "point", "opacity": 0},
     "encoding": {
       "x": {"field": "t", "type": "quantitative", "scale": {"domain": [0, 60], "nice": false, "zero": false}, "axis": {"orient": "top", "labels": false, "title": null, "grid": false, "domain": false, "values": [0,5,10,15,20,25,30,35,40,45,50,55,60]}},
       "y": {"field": "v", "type": "quantitative", "scale": {"domain": [0, 0.9], "nice": false, "zero": false}, "axis": {"orient": "right", "labels": false, "title": null, "grid": false, "domain": false, "values": [0,0.2,0.4,0.6,0.8]}}
     }}
  ],
  "resolve": {"axis": {"x": "independent", "y": "independent"}}
}
]
}
